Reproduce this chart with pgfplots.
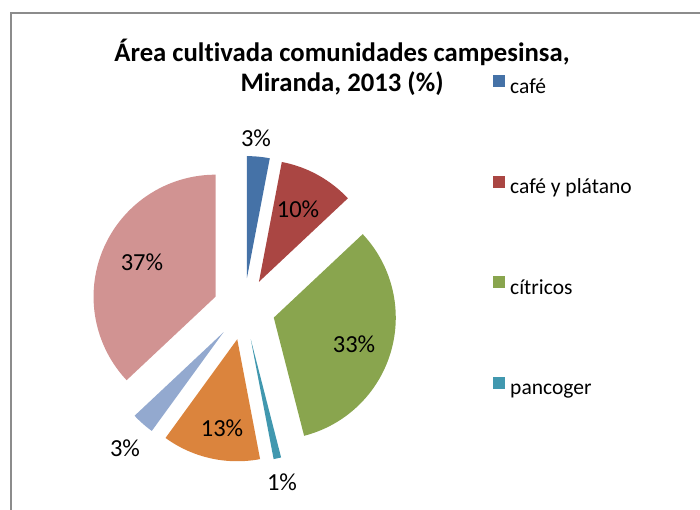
\documentclass[border=0pt]{standalone}
\usepackage{pgfplots}
\pgfplotsset{compat=1.18}
\usepackage{fontspec}
\setmainfont{Carlito}[Ligatures=NoCommon]
\definecolor{cBlue}{HTML}{4572A7}
\definecolor{cRed}{HTML}{AA4643}
\definecolor{cGreen}{HTML}{89A54E}
\definecolor{cTeal}{HTML}{4198AF}
\definecolor{cOrange}{HTML}{DB843D}
\definecolor{cLav}{HTML}{93A9CF}
\definecolor{cPink}{HTML}{D19392}
\definecolor{frame}{HTML}{8C8C8C}
\newcommand\cx{244}\newcommand\cy{201}\newcommand\R{122}\newcommand\ex{31}
\gdef\cum{0}
% #1 value (percent), #2 colour, #3 extra options
\newcommand\slice[3]{%
  \pgfmathsetmacro\sa{90-3.6*\cum}%
  \pgfmathsetmacro\ea{90-3.6*(\cum+#1)}%
  \pgfmathsetmacro\ma{(\sa+\ea)/2}%
  \pgfmathsetmacro\ox{\cx+\ex*cos(\ma)}%
  \pgfmathsetmacro\oy{\cy+\ex*sin(\ma)}%
  \pgfmathsetmacro\newcum{\cum+#1}%
  \xdef\cum{\newcum}%
  \edef\temp{\noexpand\addplot[fill=#2,draw=none,domain=\ea:\sa,samples=90,#3] ({\ox+\R*cos(x)},{\oy+\R*sin(x)}) -- (axis cs:\ox,\oy) -- cycle;}%
  \temp}
\begin{document}
\begin{tikzpicture}
\useasboundingbox (0,0) rectangle (700pt,510pt);
\begin{axis}[
  at={(0,0)}, anchor=south west,
  x=1pt, y=1pt, xmin=0, xmax=700, ymin=0, ymax=510,
  hide axis, clip=false,
  legend image code/.code={\fill[#1] (0pt,0pt) rectangle (12pt,12pt);},
  legend style={at={(0.7043,0.8530)}, anchor=north west, draw=none, fill=none,
    inner sep=0pt, row sep=82.6pt, column sep=5pt,
    font=\fontsize{21.5}{21.5}\selectfont,
    nodes={inner sep=0pt, text height=12pt, text depth=0pt},
    cells={anchor=west}},
]
\draw[frame, line width=2pt] (axis cs:11,0) -- (axis cs:11,497.3) -- (axis cs:700,497.3);
\slice{3}{cBlue}{}
\addlegendentry{café}
\slice{10}{cRed}{}
\addlegendentry{café y plátano}
\slice{33}{cGreen}{}
\addlegendentry{cítricos}
\slice{1}{cTeal}{}
\addlegendentry{pancoger}
\slice{13}{cOrange}{forget plot}
\slice{3}{cLav}{forget plot}
\slice{37}{cPink}{forget plot}
\begin{scope}[every node/.style={font=\fontsize{24.5}{24.5}\selectfont, inner sep=0pt}]
\node at (axis cs:256,372) {3\%};
\node at (axis cs:298,301) {10\%};
\node at (axis cs:354,166) {33\%};
\node at (axis cs:282,28) {1\%};
\node at (axis cs:222,82) {13\%};
\node at (axis cs:125,62) {3\%};
\node at (axis cs:142,248) {37\%};
\end{scope}
\node[anchor=base, font=\fontsize{26.7}{26.7}\selectfont\bfseries, inner sep=0pt] at (axis cs:342,448.3) {Área cultivada comunidades campesinsa,};
\node[anchor=base, font=\fontsize{26.7}{26.7}\selectfont\bfseries, inner sep=0pt] at (axis cs:342,418) {Miranda, 2013 (\%)};
\end{axis}
\end{tikzpicture}
\end{document}
